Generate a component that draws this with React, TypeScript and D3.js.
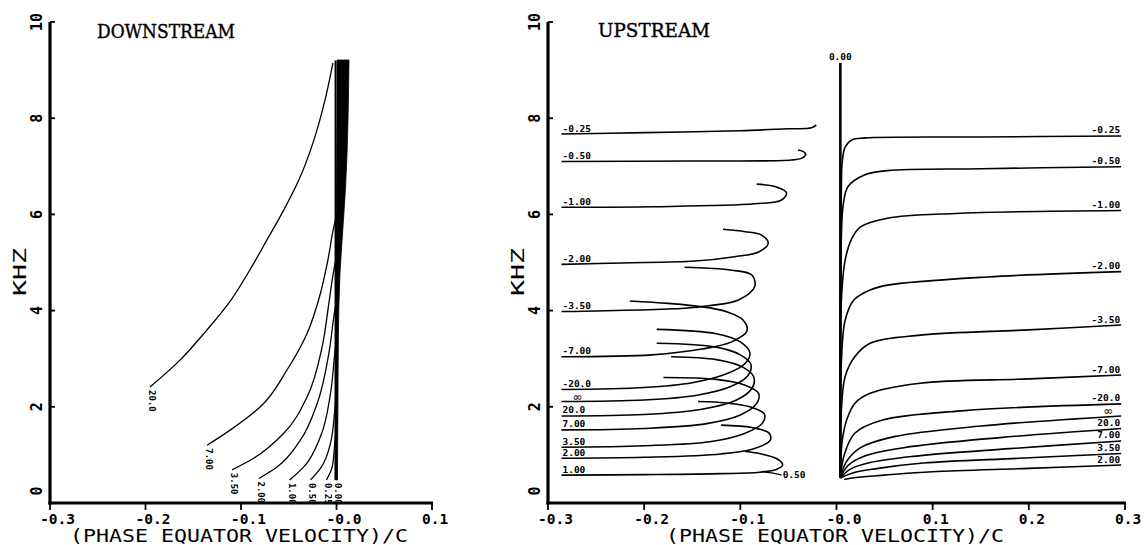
import React from "react";
import * as d3 from "d3";

type P = [number, number];

// ---------- axes data ----------
const yTicks = [0, 2, 4, 6, 8, 10];
const xTicksDown = [-0.3, -0.2, -0.1, 0, 0.1];
const xTickLabelsDown = ["-0.3", "-0.2", "-0.1", "-0.0", "0.1"];
const xTicksUp = [-0.3, -0.2, -0.1, 0, 0.1, 0.2, 0.3];
const xTickLabelsUp = ["-0.3", "-0.2", "-0.1", "-0.0", "0.1", "0.2", "0.3"];

// ---------- DOWNSTREAM ----------
const downLabels = ["20.0", "7.00", "3.50", "2.00", "1.00", "0.50", "0.25", "0.00"];
const downCurves: P[][] = [
  [[-0.1953, 2.41], [-0.1639, 2.97], [-0.1356, 3.6], [-0.1105, 4.22], [-0.0906, 4.85], [-0.0728, 5.47], [-0.055, 6.1], [-0.0393, 6.72], [-0.0236, 7.55], [-0.012, 8.38], [-0.0037, 9.15]],
  [[-0.1355, 1.2], [-0.111, 1.52], [-0.0797, 2.0], [-0.0517, 2.77], [-0.0307, 3.53], [-0.0168, 4.36], [-0.0095, 5.0], [-0.0028, 5.74], [0.003, 6.2]],
  [[-0.1093, 0.69], [-0.0867, 0.93], [-0.0552, 1.45], [-0.0307, 2.21], [-0.015, 3.25], [-0.008, 4.15], [-0.0028, 4.84], [0.002, 5.3]],
  [[-0.0814, 0.51], [-0.0622, 0.75], [-0.0377, 1.31], [-0.0202, 2.07], [-0.008, 3.11], [-0.0028, 3.87], [0.0015, 4.4]],
  [[-0.049, 0.48], [-0.0343, 0.75], [-0.0168, 1.38], [-0.0063, 2.28], [-0.0018, 3.11], [0.001, 3.6]],
  [[-0.0273, 0.48], [-0.0168, 0.72], [-0.0063, 1.24], [-0.0018, 1.93], [0.001, 2.5]],
  [[-0.0105, 0.48], [-0.0045, 0.75], [-0.0018, 1.24], [0.0005, 1.8]],
  [[-0.001, 0.48], [-0.001, 9.2]],
];
// merged bundle of curves near zero (thick band)
const bandY = [0.48, 2.0, 3.5, 4.7, 5.74, 6.57, 9.21];
const bandLeft = [-0.0012, -0.0012, -0.001, -0.0008, -0.0005, 0.0, 0.0006];
const bandRight = [0.001, 0.0015, 0.002, 0.0035, 0.0068, 0.0095, 0.0131];

// ---------- UPSTREAM: looping branch (left) ----------
const upLoopLabels = ["-0.25", "-0.50", "-1.00", "-2.00", "-3.50", "-7.00", "-20.0", "∞", "20.0", "7.00", "3.50", "2.00", "1.00"];
const upLoopCurves: P[][] = [
  [[-0.286, 7.67], [-0.2, 7.7], [-0.1, 7.74], [-0.05, 7.78], [-0.026, 7.8], [-0.021, 7.86]],
  [[-0.286, 7.1], [-0.15, 7.11], [-0.047, 7.13], [-0.036, 7.17], [-0.032, 7.25], [-0.036, 7.32], [-0.04, 7.34]],
  [[-0.286, 6.15], [-0.19, 6.16], [-0.085, 6.22], [-0.057, 6.3], [-0.052, 6.45], [-0.064, 6.58], [-0.083, 6.63]],
  [[-0.286, 4.96], [-0.223, 4.99], [-0.147, 5.03], [-0.106, 5.12], [-0.081, 5.22], [-0.071, 5.4], [-0.078, 5.57], [-0.095, 5.64], [-0.118, 5.69]],
  [[-0.286, 3.98], [-0.158, 4.05], [-0.133, 4.1], [-0.102, 4.22], [-0.085, 4.5], [-0.088, 4.74], [-0.109, 4.84], [-0.133, 4.88], [-0.158, 4.9]],
  [[-0.286, 3.04], [-0.192, 3.08], [-0.14, 3.2], [-0.109, 3.35], [-0.093, 3.58], [-0.097, 3.8], [-0.115, 3.98], [-0.14, 4.08], [-0.175, 4.15], [-0.215, 4.2]],
  [[-0.286, 2.36], [-0.2, 2.4], [-0.15, 2.5], [-0.115, 2.68], [-0.095, 2.9], [-0.09, 3.12], [-0.1, 3.35], [-0.125, 3.52], [-0.187, 3.61]],
  [[-0.286, 2.11], [-0.2, 2.14], [-0.145, 2.24], [-0.11, 2.42], [-0.092, 2.65], [-0.089, 2.88], [-0.1, 3.08], [-0.125, 3.24], [-0.187, 3.32]],
  [[-0.286, 1.81], [-0.2, 1.84], [-0.14, 1.95], [-0.105, 2.13], [-0.088, 2.38], [-0.086, 2.62], [-0.098, 2.83], [-0.125, 2.98], [-0.172, 3.04]],
  [[-0.286, 1.52], [-0.2, 1.55], [-0.135, 1.65], [-0.1, 1.83], [-0.083, 2.07], [-0.081, 2.28], [-0.095, 2.45], [-0.125, 2.57], [-0.18, 2.61]],
  [[-0.286, 1.16], [-0.2, 1.19], [-0.13, 1.28], [-0.095, 1.45], [-0.077, 1.66], [-0.075, 1.85], [-0.09, 2.0], [-0.115, 2.08], [-0.144, 2.11]],
  [[-0.286, 0.93], [-0.2, 0.95], [-0.12, 1.02], [-0.086, 1.13], [-0.069, 1.3], [-0.07, 1.45], [-0.088, 1.57], [-0.12, 1.62]],
  [[-0.286, 0.58], [-0.2, 0.59], [-0.12, 0.61], [-0.08, 0.64], [-0.062, 0.7], [-0.056, 0.8], [-0.062, 0.92], [-0.078, 1.02], [-0.095, 1.07]],
];
const upTailLabel = "0.50";
const upTailCurve: P[] = [[-0.075, 0.64], [-0.066, 0.62], [-0.057, 0.58]];

// ---------- UPSTREAM: rising branch (right) ----------
const upZeroLabel = "0.00";
const upZeroCurve: P[] = [[0.004, 0.52], [0.004, 9.15]];
const upRiseLabels = ["-0.25", "-0.50", "-1.00", "-2.00", "-3.50", "-7.00", "-20.0", "∞", "20.0", "7.00", "3.50", "2.00"];
const upRiseCurves: P[][] = [
  [[0.004, 0.52], [0.005, 6.5], [0.006, 7.1], [0.009, 7.4], [0.016, 7.55], [0.03, 7.59], [0.15, 7.61], [0.296, 7.63]],
  [[0.004, 0.52], [0.005, 5.5], [0.007, 6.2], [0.012, 6.58], [0.029, 6.82], [0.053, 6.91], [0.15, 6.95], [0.296, 6.99]],
  [[0.004, 0.52], [0.005, 4.2], [0.009, 5.05], [0.016, 5.5], [0.025, 5.74], [0.053, 5.92], [0.123, 6.02], [0.296, 6.08]],
  [[0.004, 0.52], [0.005, 2.9], [0.009, 3.8], [0.018, 4.22], [0.035, 4.43], [0.053, 4.53], [0.157, 4.7], [0.296, 4.81]],
  [[0.004, 0.52], [0.005, 1.9], [0.009, 2.63], [0.019, 3.04], [0.035, 3.32], [0.087, 3.49], [0.2, 3.6], [0.296, 3.7]],
  [[0.004, 0.52], [0.006, 1.3], [0.011, 1.75], [0.019, 2.07], [0.035, 2.28], [0.087, 2.49], [0.2, 2.58], [0.296, 2.66]],
  [[0.004, 0.52], [0.008, 1.0], [0.019, 1.45], [0.047, 1.72], [0.133, 1.92], [0.296, 2.06]],
  [[0.004, 0.52], [0.01, 0.85], [0.025, 1.15], [0.06, 1.38], [0.15, 1.6], [0.296, 1.81]],
  [[0.004, 0.52], [0.012, 0.78], [0.03, 0.98], [0.07, 1.15], [0.17, 1.36], [0.296, 1.55]],
  [[0.004, 0.52], [0.014, 0.7], [0.035, 0.84], [0.08, 0.97], [0.18, 1.13], [0.296, 1.29]],
  [[0.004, 0.52], [0.016, 0.62], [0.04, 0.71], [0.09, 0.83], [0.19, 0.93], [0.296, 1.03]],
  [[0.008, 0.49], [0.02, 0.53], [0.05, 0.58], [0.1, 0.65], [0.2, 0.72], [0.296, 0.79]],
];

// ---------- layout ----------
const W = 1145;
const H = 545;
const MONO = "'DejaVu Sans Mono', monospace";
const SANS = "'DejaVu Sans', sans-serif";
const SERIF = "'DejaVu Serif', serif";
const yS = d3.scaleLinear().domain([0, 10]).range([503, 22]);
const xD = d3.scaleLinear().domain([-0.3, 0.1]).range([50, 432]);
const xU = d3.scaleLinear().domain([-0.3, 0.3]).range([548, 1125]);

function lineFor(x: d3.ScaleLinear<number, number>, curve: d3.CurveFactory) {
  return d3
    .line<P>()
    .x((d) => x(d[0]))
    .y((d) => yS(d[1]))
    .curve(curve);
}

function Axes({ x, ticks, labels, titleX }: { x: d3.ScaleLinear<number, number>; ticks: number[]; labels: string[]; titleX: number }) {
  const [x0, x1] = x.range();
  const y0 = yS(0);
  const yTop = yS(10);
  return (
    <g>
      <line x1={x0} x2={x0} y1={yTop} y2={y0 + 1.5} stroke="#000" strokeWidth={3.2} />
      <line x1={x0 - 1.6} x2={x1 + 1} y1={y0} y2={y0} stroke="#000" strokeWidth={3.2} />
      {yTicks.map((t) => (
        <line key={"yt" + t} x1={x0} x2={x0 + 5} y1={yS(t)} y2={yS(t)} stroke="#000" strokeWidth={1.8} />
      ))}
      {yTicks.map((t) => (
        <text
          key={"yl" + t}
          transform={`translate(${x0 - 13},${yS(t) - (t === 0 ? 12 : 0)}) rotate(-90)`}
          textAnchor="middle"
          dominantBaseline="central"
          fontFamily={MONO}
          fontWeight="bold"
          fontSize={15}
        >
          {t}
        </text>
      ))}
      {ticks.map((t) => (
        <line key={"xt" + t} x1={x(t)} x2={x(t)} y1={y0} y2={y0 + 7} stroke="#000" strokeWidth={1.8} />
      ))}
      {ticks.map((t, i) => (
        <text key={"xl" + t} x={x(t) - 10} y={523.5} fontFamily={MONO} fontWeight="bold" fontSize={14.5}>
          {labels[i]}
        </text>
      ))}
      <text x={titleX} y={542} fontFamily={MONO} fontSize={17} textLength={338} lengthAdjust="spacingAndGlyphs">
        (PHASE EQUATOR VELOCITY)/C
      </text>
      <text
        transform={`translate(${x0 - 31},272) rotate(-90)`}
        textAnchor="middle"
        dominantBaseline="central"
        fontFamily={MONO}
        fontSize={18}
        textLength={48}
        lengthAdjust="spacingAndGlyphs"
      >
        KHZ
      </text>
    </g>
  );
}

function Downstream() {
  const line = lineFor(xD, d3.curveMonotoneY);
  const band = d3
    .area<number>()
    .y((_, i) => yS(bandY[i]))
    .x0((_, i) => xD(bandLeft[i]))
    .x1((_, i) => xD(bandRight[i]))
    .curve(d3.curveMonotoneY);
  return (
    <g>
      <Axes x={xD} ticks={xTicksDown} labels={xTickLabelsDown} titleX={70} />
      <text x={97} y={37.5} fontFamily={SERIF} fontSize={19} stroke="#000" strokeWidth={0.4} textLength={138} lengthAdjust="spacingAndGlyphs">
        DOWNSTREAM
      </text>
      <path d={band(bandY) || ""} fill="#000" stroke="#000" strokeWidth={0.8} />
      {downCurves.map((c, i) => (
        <path key={"dc" + i} d={line(c) || ""} fill="none" stroke="#000" strokeWidth={i === downCurves.length - 1 ? 2 : 1.3} />
      ))}
      {downCurves.map((c, i) => (
        <text
          key={"dl" + i}
          transform={`translate(${xD(c[0][0]) + 2},${yS(c[0][1]) + 3}) rotate(90)`}
          dominantBaseline="central"
          fontFamily={MONO}
          fontWeight="bold"
          fontSize={9}
        >
          {downLabels[i]}
        </text>
      ))}
    </g>
  );
}

function Upstream() {
  const line = lineFor(xU, d3.curveCatmullRom.alpha(0.5));
  return (
    <g>
      <Axes x={xU} ticks={xTicksUp} labels={xTickLabelsUp} titleX={666} />
      <text x={598} y={36.5} fontFamily={SERIF} fontSize={19} stroke="#000" strokeWidth={0.4} textLength={112} lengthAdjust="spacingAndGlyphs">
        UPSTREAM
      </text>
      {upLoopCurves.map((c, i) => (
        <path key={"ul" + i} d={line(c) || ""} fill="none" stroke="#000" strokeWidth={1.6} />
      ))}
      {upLoopCurves.map((c, i) => {
        const inf = upLoopLabels[i] === "∞";
        return (
          <text
            key={"ult" + i}
            x={xU(c[0][0]) + (inf ? 11 : 1)}
            y={yS(c[0][1]) - (inf ? 0.5 : 2.5)}
            fontFamily={inf ? SANS : MONO}
            fontWeight={inf ? "normal" : "bold"}
            fontSize={inf ? 12 : 9.5}
          >
            {upLoopLabels[i]}
          </text>
        );
      })}
      <path d={line(upTailCurve) || ""} fill="none" stroke="#000" strokeWidth={1.3} />
      <text
        x={xU(upTailCurve[upTailCurve.length - 1][0]) + 1}
        y={yS(upTailCurve[upTailCurve.length - 1][1]) + 3}
        fontFamily={MONO}
        fontWeight="bold"
        fontSize={9.5}
      >
        {upTailLabel}
      </text>
      <path d={line(upZeroCurve) || ""} fill="none" stroke="#000" strokeWidth={2.6} />
      <text
        x={xU(upZeroCurve[1][0])}
        y={yS(upZeroCurve[1][1]) - 3}
        textAnchor="middle"
        fontFamily={MONO}
        fontWeight="bold"
        fontSize={9.5}
      >
        {upZeroLabel}
      </text>
      {upRiseCurves.map((c, i) => (
        <path key={"ur" + i} d={line(c) || ""} fill="none" stroke="#000" strokeWidth={1.6} />
      ))}
      {upRiseCurves.map((c, i) => {
        const inf = upRiseLabels[i] === "∞";
        const last = c[c.length - 1];
        return (
          <text
            key={"urt" + i}
            x={xU(last[0]) - (inf ? 8 : 1)}
            y={yS(last[1]) - (inf ? 0.5 : 2.5)}
            textAnchor="end"
            fontFamily={inf ? SANS : MONO}
            fontWeight={inf ? "normal" : "bold"}
            fontSize={inf ? 12 : 9.5}
          >
            {upRiseLabels[i]}
          </text>
        );
      })}
    </g>
  );
}

export default function App() {
  return (
    <svg
      width={W}
      height={H}
      viewBox={`0 0 ${W} ${H}`}
      style={{ position: "absolute", left: 0, top: 0, background: "#fff" }}
    >
      <rect width={W} height={H} fill="#fff" />
      <Downstream />
      <Upstream />
    </svg>
  );
}
